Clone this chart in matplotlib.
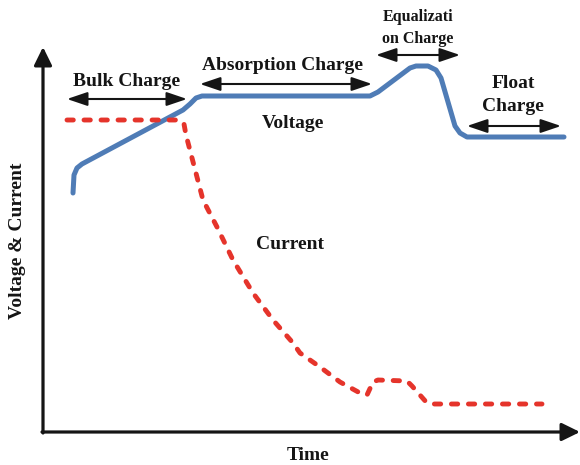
"""
Battery charging stages: voltage and current versus time (schematic)
"""

import matplotlib
matplotlib.use('Agg')
import matplotlib.pyplot as plt

plt.rcParams['font.family'] = ['Liberation Serif', 'DejaVu Serif']
plt.rcParams['font.weight'] = 'bold'

# Voltage curve (time, level)
volt_t = [30, 31, 34, 39, 140, 147, 153, 159, 327, 335, 367, 373, 385, 393, 398, 412, 417, 424, 521]
volt_v = [239, 257, 264, 268, 322, 328, 334, 336, 336, 340, 364, 366, 366, 362, 354, 306, 299, 295, 295]

# Current curve (time, level)
curr_t = [24, 137, 141, 143, 160, 174, 190, 210, 230, 250, 257, 277, 297, 317, 324, 330, 335, 364, 369, 384, 389, 499]
curr_v = [312, 312, 308, 297, 232, 205, 172, 139, 112, 89, 79, 65, 50, 39, 37, 50, 52, 51, 46, 29, 28, 28]

# Stage labels and the span each one covers (start, end, level)
stage_names = ['Bulk Charge', 'Absorption Charge', 'Equalizati\non Charge', 'Float\nCharge']
stage_spans = [(24, 144, 333), (157, 329, 348), (333, 417, 377), (424, 518, 306)]

BLUE = '#4f7cb6'
RED = '#e5342b'
INK = '#151515'

fig = plt.figure(figsize=(5.8, 4.65), dpi=100)
ax = fig.add_axes([0, 0, 1, 1])
ax.set_xlim(-43, 537)
ax.set_ylim(-33, 432)
ax.axis('off')

# Axes with arrow heads
axis_style = dict(arrowstyle='-|>,head_length=0.55,head_width=0.27', color=INK,
                  lw=2.3, mutation_scale=20, shrinkA=0, shrinkB=0)
ax.annotate('', xy=(0, 385), xytext=(0, -1), arrowprops=axis_style)
ax.annotate('', xy=(537, 0), xytext=(-1, 0), arrowprops=axis_style)

# Curves
ax.plot(volt_t, volt_v, color=BLUE, lw=3.6, solid_capstyle='round', solid_joinstyle='round')
ax.plot(curr_t, curr_v, color=RED, lw=3.5, dashes=(1.3, 2.2),
        dash_capstyle='round', dash_joinstyle='round')

# Stage arrows
stage_style = dict(arrowstyle='<|-|>,head_length=0.62,head_width=0.21', color=INK,
                   lw=1.5, mutation_scale=20, shrinkA=0, shrinkB=0)
for t0, t1, lvl in stage_spans:
    ax.annotate('', xy=(t1, lvl), xytext=(t0, lvl), arrowprops=stage_style)

# Labels
txt = dict(color=INK, fontweight='bold', ha='center', va='center')
ax.text(84, 351, stage_names[0], fontsize=14, **txt)
ax.text(240, 366, stage_names[1], fontsize=14, **txt)
ax.text(375, 404, stage_names[2], fontsize=11.5, linespacing=1.5, **txt)
ax.text(470, 337, stage_names[3], fontsize=14, linespacing=1.5, **txt)
ax.text(250, 309, 'Voltage', fontsize=14, **txt)
ax.text(247, 188, 'Current', fontsize=14, **txt)
ax.text(265, -23, 'Time', fontsize=14, **txt)
ax.text(-25, 191, 'Voltage & Current', fontsize=14, rotation=90, **txt)

fig.savefig('out.png', dpi=100)
